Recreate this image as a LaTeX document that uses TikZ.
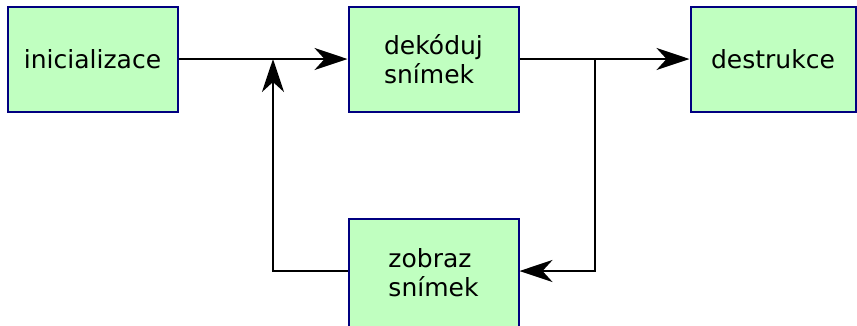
\documentclass[tikz,border=0pt]{standalone}
\usepackage{fontspec}
\setmainfont{DejaVu Sans}
\usetikzlibrary{arrows.meta}
\definecolor{boxfill}{RGB}{192,255,192}
\definecolor{boxline}{RGB}{0,0,128}
\begin{document}
\begin{tikzpicture}[x=1pt,y=-1pt,
  stage/.style={draw=boxline, fill=boxfill, line width=2pt, rectangle,
    minimum width=170pt, minimum height=105pt, inner sep=0pt,
    align=left, font=\fontsize{25}{29}\selectfont},
  flow/.style={line width=2.3pt, draw=black, line join=miter},
  tip/.style={flow, -{Stealth[length=33pt, width=22pt, inset=10pt]}}]
  \useasboundingbox (0,0) rectangle (857,325);

  % processing stages
  \node[stage] (init)   at (92.5,59)  {inicializace};
  \node[stage] (dekod)  at (433.5,59) {dekóduj\\snímek};
  \node[stage, minimum width=165pt] (destr) at (773,59) {destrukce};
  \node[stage, minimum height=108pt] (zobraz) at (433.5,273) {zobraz\\snímek};

  % junction points of the decoding loop
  \coordinate (j1) at (273,59);
  \coordinate (j2) at (595,59);
  \coordinate (c1) at (273,271);
  \coordinate (c2) at (595,271);
  \coordinate (u1) at (273,150);
  \coordinate (d2) at (595,180);

  % main flow
  \draw[tip] (init) -- (dekod);
  \draw[tip] (dekod) -- (destr);

  % loop: decode -> show -> back to decode
  \draw[flow] (j2) -- (d2);
  \draw[tip] (d2) -- (c2) -- (zobraz.east |- c2);
  \draw[flow] (zobraz.west |- c1) -- (c1) -- (u1);
  \draw[tip] (u1) -- (j1);
\end{tikzpicture}
\end{document}
